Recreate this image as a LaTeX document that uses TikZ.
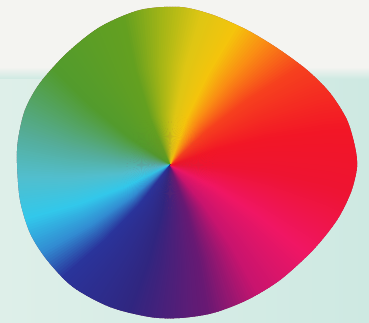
\documentclass[tikz,border=0pt]{standalone}
\definecolor{bgwhite}{RGB}{244,244,241}
\definecolor{bgmint}{RGB}{206,233,226}
\definecolor{bgpale}{RGB}{222,239,233}
\definecolor{seam}{RGB}{150,70,90}
\definecolor{s0}{RGB}{238,20,50}
\definecolor{s1}{RGB}{242,22,38}
\definecolor{s2}{RGB}{246,65,30}
\definecolor{s3}{RGB}{250,140,20}
\definecolor{s4}{RGB}{245,196,12}
\definecolor{s5}{RGB}{222,198,20}
\definecolor{s6}{RGB}{165,182,22}
\definecolor{s7}{RGB}{100,160,32}
\definecolor{s8}{RGB}{82,155,45}
\definecolor{s9}{RGB}{85,172,150}
\definecolor{s10}{RGB}{82,190,205}
\definecolor{s11}{RGB}{50,200,235}
\definecolor{s12}{RGB}{50,140,210}
\definecolor{s13}{RGB}{42,52,155}
\definecolor{s14}{RGB}{48,38,128}
\definecolor{s15}{RGB}{105,25,115}
\definecolor{s16}{RGB}{200,20,110}
\definecolor{s17}{RGB}{240,22,100}
\begin{document}
\begin{tikzpicture}[x=1pt,y=1pt]
\useasboundingbox (0,0) rectangle (369,323);
\shade[left color=bgpale,right color=bgmint] (0,0) rectangle (369,250);
\shade[bottom color=bgmint,top color=bgwhite] (0,244) rectangle (369,256);
\fill[bgwhite] (0,256) rectangle (369,323);
\begin{scope}
\clip plot[smooth cycle] coordinates {
 (17,160) (18,183) (25,213) (40,240) (67,270) (100,296) (140,313) (180,316)
 (213,308) (247,293) (277,275) (307,253) (330,230) (347,203) (355,176) (357,156)
 (351,131) (337,103) (313,73) (280,43) (247,23) (213,10) (180,5) (150,6)
 (110,16) (73,36) (47,63) (30,90) (20,123)};
\fill[seam] (0,0) rectangle (369,323);
\begin{scope}[shift={(170,158)}]
\foreach \a/\b/\ca/\cb in {0/20/s0/s1,20/45/s1/s2,45/60/s2/s3,60/72/s3/s4,72/86/s4/s5,
  86/100/s5/s6,100/115/s6/s7,115/148/s7/s8,148/175/s8/s9,175/192/s9/s10,192/208/s10/s11,
  208/222/s11/s12,222/234/s12/s13,234/262/s13/s14,262/292/s14/s15,292/312/s15/s16,
  312/335/s16/s17,335/360/s17/s0} {
  \pgfmathtruncatemacro\n{\b-\a-1}
  \foreach \i in {0,...,\n} {
    \pgfmathsetmacro\p{100-100*\i/(\b-\a)}
    \pgfmathsetmacro\t{\a+\i-0.3}
    \pgfmathsetmacro\u{\a+\i+1.3}
    \fill[\ca!\p!\cb] (0,0) -- (\t-2:50) -- (\t-5:100) -- (\t-8:160) -- (\t-12:260)
       -- (\u-12:260) -- (\u-8:160) -- (\u-5:100) -- (\u-2:50) -- cycle;
  }
}
\end{scope}
\end{scope}
\end{tikzpicture}
\end{document}
